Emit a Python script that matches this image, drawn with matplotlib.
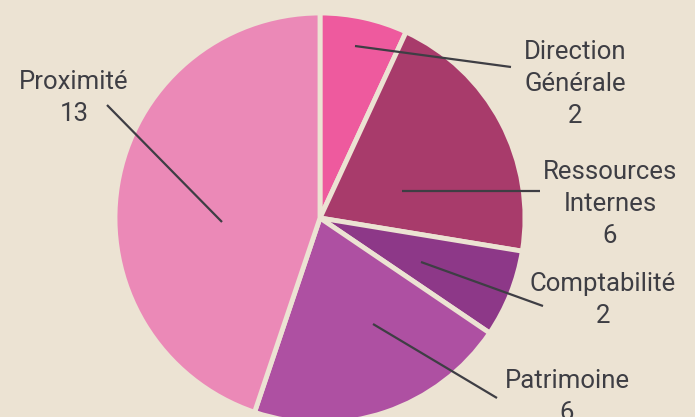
import matplotlib.pyplot as plt
from matplotlib import font_manager

# data
services = ['Direction\nGénérale', 'Ressources\nInternes', 'Comptabilité', 'Patrimoine', 'Proximité']
effectifs = [2, 6, 2, 6, 13]
colors = ['#EE5A9E', '#A83B6B', '#8D3888', '#AE50A2', '#EB89B7']

BG = '#ECE3D3'
INK = '#3E3E44'

names = {f.name for f in font_manager.fontManager.ttflist}
fam = 'Liberation Sans Narrow' if 'Liberation Sans Narrow' in names else 'Roboto'

fig = plt.figure(figsize=(6.95, 4.17), dpi=100)
fig.patch.set_facecolor(BG)
ax = fig.add_axes([0, 0, 1, 1])
ax.set_facecolor(BG)

# pixel layout: centre (320, 218 from top), radius 205
cx, cy, R = 320, 417 - 218, 205
ax.pie(effectifs, colors=colors, startangle=90, counterclock=False,
       center=(cx, cy), radius=R, frame=True,
       wedgeprops={'edgecolor': BG, 'linewidth': 3.5})
ax.set_xlim(0, 695)
ax.set_ylim(0, 417)
ax.set_aspect('equal')
ax.axis('off')

# label leader lines (inner point -> outer point) and text positions, in px from top
leaders = [((355, 46), (511, 67)),
           ((402, 191), (540, 191)),
           ((421, 262), (543, 306)),
           ((373, 324), (497, 398)),
           ((222, 222), (107, 105))]
text_pos = [(575, 84), (610, 204), (603, 300), (567, 397), (74, 98)]

for name, n, (p0, p1), (tx, ty) in zip(services, effectifs, leaders, text_pos):
    ax.plot([p0[0], p1[0]], [417 - p0[1], 417 - p1[1]], color=INK, lw=1.6,
            solid_capstyle='butt', zorder=5)
    ax.text(tx, 417 - ty, f'{name}\n{n}', ha='center', va='center',
            fontsize=18.5, family=fam, color=INK, linespacing=1.4, zorder=6)

plt.savefig('out.png', dpi=100, facecolor=BG)
